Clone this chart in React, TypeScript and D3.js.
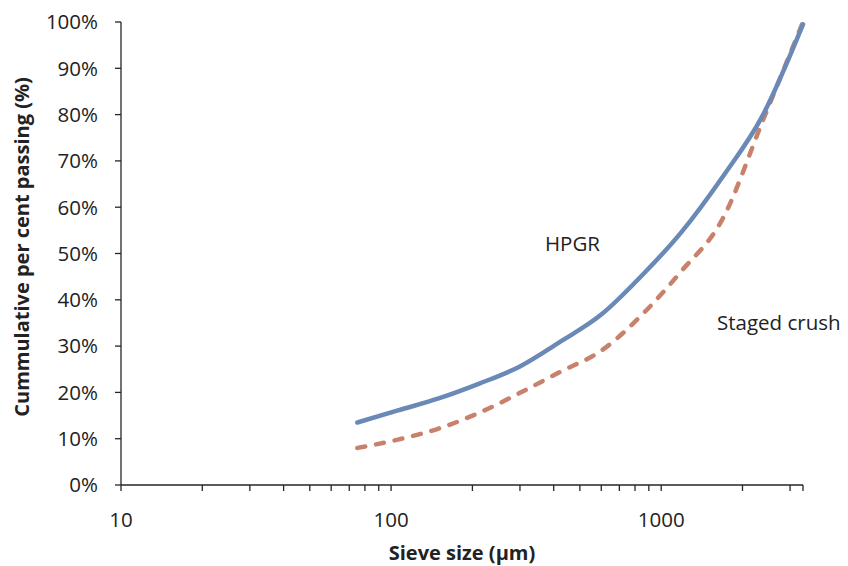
import React, { useEffect, useRef } from "react";
import * as d3 from "d3";

// sieve sizes (µm) and cumulative % passing
const sieveSizes = [75, 106, 150, 212, 300, 425, 600, 850, 1180, 1700, 2360, 3350];
const hpgrPassing = [13.5, 16.1, 18.7, 21.9, 25.6, 31.0, 36.8, 45.3, 54.4, 66.8, 79.5, 99.5];
const stagedPassing = [8.0, 9.8, 12.2, 15.6, 19.9, 24.5, 29.0, 36.8, 46.0, 57.8, 78.2, 100];

const yTicks = [0, 10, 20, 30, 40, 50, 60, 70, 80, 90, 100];
const xMajorTicks = [10, 100, 1000];
const xMinorTicks = [20, 30, 40, 50, 60, 70, 80, 90, 200, 300, 400, 500, 600, 700, 800, 900, 2000, 3000, 3350];

const FONT = "'Open Sans', Lato, sans-serif";

export default function App() {
  const ref = useRef<SVGSVGElement | null>(null);

  useEffect(() => {
    const dimensions = {
      width: 848,
      height: 566,
      margins: { top: 22, right: 45, bottom: 81, left: 121 },
    } as any;
    dimensions.boundedWidth = dimensions.width - dimensions.margins.left - dimensions.margins.right;
    dimensions.boundedHeight = dimensions.height - dimensions.margins.top - dimensions.margins.bottom;

    const svg = d3.select(ref.current);
    svg.selectAll("*").remove();

    const bounds = svg
      .append("g")
      .attr("transform", `translate(${dimensions.margins.left},${dimensions.margins.top})`);

    const xScale = d3.scaleLog().domain([10, 3350]).range([0, dimensions.boundedWidth]);
    const yScale = d3.scaleLinear().domain([0, 100]).range([dimensions.boundedHeight, 0]);

    const axisColor = "#262626";

    // y axis
    bounds
      .append("line")
      .attr("x1", 0)
      .attr("x2", 0)
      .attr("y1", 0)
      .attr("y2", dimensions.boundedHeight)
      .attr("stroke", axisColor)
      .attr("stroke-width", 1.3);

    bounds
      .selectAll(".ytick")
      .data(yTicks)
      .join("line")
      .attr("x1", -6)
      .attr("x2", 0)
      .attr("y1", (d) => yScale(d))
      .attr("y2", (d) => yScale(d))
      .attr("stroke", axisColor)
      .attr("stroke-width", 1.3);

    bounds
      .selectAll(".ylabel")
      .data(yTicks)
      .join("text")
      .attr("x", -23)
      .attr("y", (d) => yScale(d))
      .attr("dy", "0.36em")
      .attr("text-anchor", "end")
      .attr("font-family", FONT)
      .attr("font-size", 20.5)
      .attr("fill", "#222")
      .text((d) => `${d}%`);

    // x axis
    bounds
      .append("line")
      .attr("x1", 0)
      .attr("x2", dimensions.boundedWidth)
      .attr("y1", dimensions.boundedHeight)
      .attr("y2", dimensions.boundedHeight)
      .attr("stroke", axisColor)
      .attr("stroke-width", 1.3);

    bounds
      .selectAll(".xtick")
      .data([...xMajorTicks, ...xMinorTicks])
      .join("line")
      .attr("x1", (d) => xScale(d))
      .attr("x2", (d) => xScale(d))
      .attr("y1", dimensions.boundedHeight)
      .attr("y2", dimensions.boundedHeight + 6)
      .attr("stroke", axisColor)
      .attr("stroke-width", 1.3);

    bounds
      .selectAll(".xlabel")
      .data(xMajorTicks)
      .join("text")
      .attr("x", (d) => xScale(d))
      .attr("y", dimensions.boundedHeight + 42)
      .attr("text-anchor", "middle")
      .attr("font-family", FONT)
      .attr("font-size", 20.5)
      .attr("fill", "#222")
      .text((d) => d);

    // axis titles
    svg
      .append("text")
      .attr("x", 462)
      .attr("y", 560)
      .attr("text-anchor", "middle")
      .attr("font-family", FONT)
      .attr("font-size", 20)
      .attr("font-weight", "bold")
      .attr("fill", "#222")
      .text("Sieve size (µm)");

    svg
      .append("text")
      .attr("transform", `translate(29,247) rotate(-90)`)
      .attr("text-anchor", "middle")
      .attr("font-family", FONT)
      .attr("font-size", 20)
      .attr("font-weight", "bold")
      .attr("fill", "#222")
      .text("Cummulative per cent passing (%)");

    // lines
    const lineGenerator = d3
      .line<number>()
      .x((d, i) => xScale(sieveSizes[i]))
      .y((d) => yScale(d))
      .curve(d3.curveMonotoneX);

    bounds
      .append("path")
      .attr("d", lineGenerator(stagedPassing))
      .attr("fill", "none")
      .attr("stroke", "#c8826b")
      .attr("stroke-width", 4.5)
      .attr("stroke-dasharray", "8,11")
      .attr("stroke-linecap", "round");

    bounds
      .append("path")
      .attr("d", lineGenerator(hpgrPassing))
      .attr("fill", "none")
      .attr("stroke", "#6a89b6")
      .attr("stroke-width", 4.5)
      .attr("stroke-linecap", "round");

    // series labels
    svg
      .append("text")
      .attr("x", 545)
      .attr("y", 251)
      .attr("font-family", FONT)
      .attr("font-size", 20.5)
      .attr("fill", "#222")
      .text("HPGR");

    svg
      .append("text")
      .attr("x", 717)
      .attr("y", 330)
      .attr("font-family", FONT)
      .attr("font-size", 20.5)
      .attr("fill", "#222")
      .text("Staged crush");
  }, []);

  return (
    <div style={{ position: "absolute", left: 0, top: 0 }}>
      <svg ref={ref} width={848} height={566} style={{ display: "block", background: "#fff" }} />
    </div>
  );
}
